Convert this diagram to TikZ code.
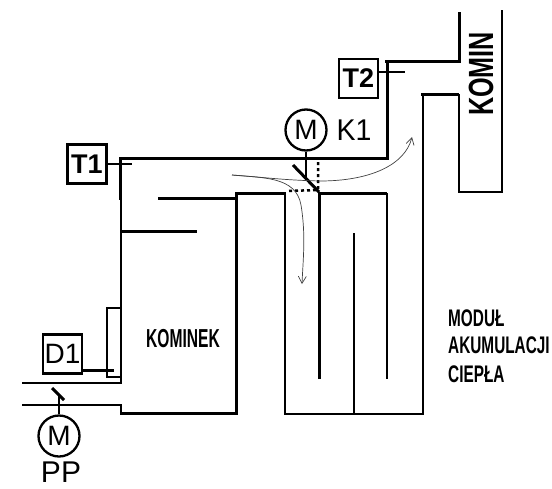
\documentclass[tikz,border=0pt]{standalone}
\usepackage{graphicx}
\usepackage{fontspec}
\setmainfont{Liberation Sans}
\usetikzlibrary{arrows.meta}
\newcommand{\fsize}[1]{\fontsize{#1}{#1}\selectfont}
\newcommand{\narrow}[2]{\scalebox{#1}[1]{#2}}

\begin{document}
\begin{tikzpicture}
        [x=1pt, y=-1pt,
        boxstyle/.style={rectangle, draw, line width=2.5pt, inner sep=0pt, minimum size=39pt, font=\fsize{27}},
        motorstyle/.style={circle, draw, line width=2.3pt, inner sep=0pt, minimum size=41pt, font=\fsize{28}},
        lblstyle/.style={inner sep=0pt, font=\fsize{30}},
        capstyle/.style={inner sep=0pt, anchor=west, font=\fsize{24}\bfseries},
        wstyle/.style={line width=3pt},
        tstyle/.style={line width=2.5pt},
        dstyle/.style={line width=2.5pt, dash pattern=on 3pt off 3pt},
        fstyle/.style={-{Straight Barb[length=7pt, width=8pt]}, line width=.7pt, black!75}]
        
        \useasboundingbox (0,0) rectangle (552,488);
        
        \node[boxstyle] (t1) at (87,164) {\bfseries T1};
        \node[boxstyle] (t2) at (358.5,78.5) {\bfseries T2};
        \node[boxstyle, font=\fsize{28}] (d1) at (62.5,354) {D1};
        \node[motorstyle] (k1) at (306,130) {M};
        \node[motorstyle] (pp) at (59,436) {M};
        \node[lblstyle] (k1label) at (354,130) {\narrow{.95}{K1}};
        \node[lblstyle] (pplabel) at (61,472) {PP};
        \node[inner sep=0pt, rotate=90, font=\fsize{35}\bfseries] (komin) at (481,74) {\narrow{.72}{KOMIN}};
        \node[inner sep=0pt, font=\fsize{26}\bfseries] (kominek) at (183,338.5) {\narrow{.6}{KOMINEK}};
        \node[capstyle] (modul) at (448,318) {\narrow{.64}{MODUŁ}};
        \node[capstyle] (akum) at (448,345) {\narrow{.64}{AKUMULACJI}};
        \node[capstyle] (ciepla) at (448,374) {\narrow{.64}{CIEPŁA}};
        
        \coordinate (t1stub) at (132,164);
        \coordinate (t2stub) at (405,72);
        \coordinate (d1stub) at (114,370);
        \coordinate (k1damper) at (306,180);
        \coordinate (ppdamper) at (59,396);
        \coordinate (flowin) at (232,175);
        \coordinate (flowdown) at (302,284);
        \coordinate (flowup) at (412,137);
        
        \draw[wstyle] (459,12) -- (459,61) -- (385,61);
        \draw[wstyle] (387,61) -- (387,158) -- (120,158) -- (120,200);
        \draw[tstyle] (121,198) -- (121,383) -- (22,383);
        \draw[tstyle] (22,405) -- (121,405) -- (121,413);
        \draw[wstyle] (120,413) -- (236,413) -- (236,193) -- (285,193);
        \draw[tstyle] (285,192) -- (285,414) -- (423,414) -- (423,94);
        \draw[wstyle] (421,94) -- (459,94);
        \draw[tstyle] (459,94) -- (459,192) -- (502,192) -- (502,10);
        \draw[wstyle] (319,379) -- (319,193) -- (387,193);
        \draw[tstyle] (387,193) -- (387,379);
        \draw[tstyle] (354,414) -- (354,233);
        \draw[wstyle] (158,198) -- (236,198);
        \draw[wstyle] (121,231) -- (197,231);
        \draw[tstyle] (121,308) -- (107,308) -- (107,377) -- (121,377);
        
        \draw[tstyle] (t1.east) -- (t1stub);
        \draw[tstyle] (t2.east |- t2stub) -- (t2stub);
        \draw[wstyle] (d1.east |- d1stub) -- (d1stub);
        \draw[tstyle] (k1.south) -- (k1damper);
        \draw[tstyle] (pp.north) -- (ppdamper);
        
        \draw[wstyle] (293,165) -- (319,192);
        \draw[wstyle] (52,388) -- (64,400);
        \draw[dstyle] (318,162) -- (318,190) -- (287,191);
        
        \draw[fstyle] (flowin) .. controls (262,177) and (280,180) .. (320,181) .. controls (370,181) and (405,165) .. (flowup);
        \draw[fstyle] (flowin) .. controls (262,178) and (296,176) .. (301,205) .. controls (306,235) and (303,260) .. (flowdown);
    \end{tikzpicture}
\end{document}
